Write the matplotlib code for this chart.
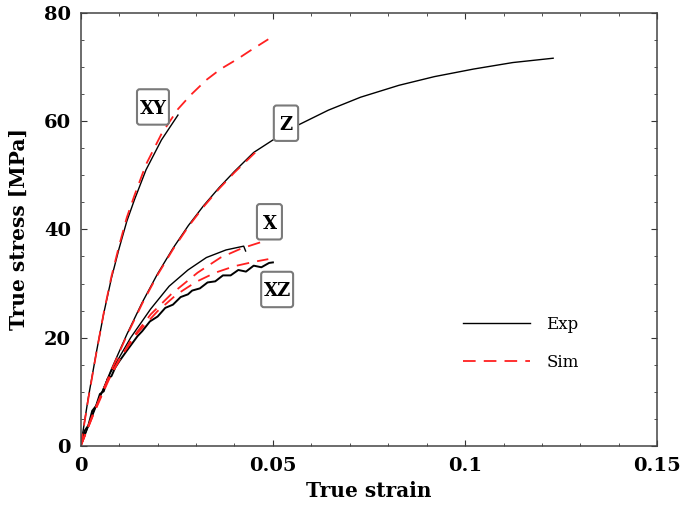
import numpy as np
import matplotlib
matplotlib.use("Agg")
import matplotlib.pyplot as plt
import matplotlib.transforms as mtransforms
from matplotlib.patches import FancyBboxPatch
from matplotlib.ticker import MultipleLocator

plt.rcParams['font.family'] = ['DejaVu Serif']

# --- data (true strain, true stress MPa) ---
xy_exp_strain = [0, 0.002, 0.004, 0.006, 0.008, 0.010, 0.012, 0.014, 0.017, 0.021, 0.0253]
xy_exp_stress = [0, 9.0, 17.0, 24.5, 31.0, 36.5, 41.5, 45.5, 51.0, 56.5, 61.1]
xy_sim_strain = [0, 0.002, 0.004, 0.006, 0.008, 0.010, 0.012, 0.014, 0.017, 0.021, 0.0253,
                 0.0286, 0.0327, 0.0364, 0.0409, 0.0441, 0.0488]
xy_sim_stress = [0, 8.8, 16.9, 24.6, 31.3, 37.0, 42.2, 46.3, 52.0, 57.6, 62.2,
                 64.8, 67.6, 69.6, 71.5, 73.0, 75.1]

z_exp_strain = [0, 0.004, 0.008, 0.012, 0.016, 0.020, 0.024, 0.028, 0.032, 0.036, 0.040, 0.045,
                0.050, 0.0564, 0.0644, 0.0728, 0.0828, 0.0920, 0.1022, 0.1124, 0.1229]
z_exp_stress = [0, 7.3, 14.2, 20.6, 26.5, 31.8, 36.5, 40.7, 44.4, 47.7, 50.7, 54.2,
                56.5, 59.2, 62.0, 64.4, 66.6, 68.2, 69.6, 70.8, 71.6]
z_sim_strain = [0, 0.004, 0.008, 0.012, 0.016, 0.020, 0.024, 0.028, 0.032, 0.036, 0.040, 0.046]
z_sim_stress = [0, 7.1, 14.0, 20.4, 26.3, 31.6, 36.3, 40.5, 44.2, 47.5, 50.5, 54.6]

x_exp_strain = [0, 0.0031, 0.0078, 0.0130, 0.0182, 0.0230, 0.0279, 0.0327, 0.0378, 0.0424, 0.0429]
x_exp_stress = [0, 6.0, 13.6, 20.0, 25.3, 29.5, 32.5, 34.8, 36.2, 36.9, 36.0]
x_sim_strain = [0, 0.0031, 0.0078, 0.0130, 0.0182, 0.0235, 0.0304, 0.0364, 0.0419, 0.0476]
x_sim_stress = [0, 5.5, 13.0, 19.5, 24.3, 28.0, 32.0, 34.8, 36.5, 37.8]

xz_exp_strain = [0, 0.001, 0.002, 0.003, 0.004, 0.005, 0.006, 0.007, 0.008, 0.009, 0.010, 0.012, 0.0148,
                 0.016, 0.018, 0.020, 0.022, 0.024, 0.026, 0.0279, 0.029, 0.031, 0.033, 0.035, 0.037,
                 0.039, 0.041, 0.043, 0.045, 0.047, 0.049, 0.050]
xz_exp_stress = [0, 2.8, 3.8, 6.5, 7.4, 9.6, 10.1, 12.4, 12.9, 14.5, 15.6, 17.6, 20.3,
                 21.2, 23.0, 23.9, 25.5, 26.1, 27.5, 28.0, 28.7, 29.1, 30.2, 30.4, 31.5,
                 31.5, 32.5, 32.2, 33.3, 33.0, 33.8, 33.9]
xz_sim_strain = [0, 0.003, 0.006, 0.010, 0.0148, 0.020, 0.025, 0.030, 0.035, 0.040, 0.0450, 0.0488]
xz_sim_stress = [0, 5.6, 10.6, 16.0, 20.9, 24.9, 28.0, 30.3, 32.0, 33.2, 34.0, 34.5]

labels = ["XY", "Z", "X", "XZ"]
label_pos = [(0.0188, 62.6), (0.0534, 59.6), (0.0491, 41.4), (0.0511, 28.9)]
label_box_w = [23, 17.5, 18, 23]   # box sizes in points
label_box_h = 25.5


def main():
    fig = plt.figure(figsize=(6.85, 5.13), dpi=100)
    ax = fig.add_axes([0.1178, 0.1306, 0.8418, 0.8446])

    exp_kw = dict(color='black', lw=1.0)
    sim_kw = dict(color='#ff2020', lw=1.3, linestyle=(0, (7, 4.5)))

    ax.plot(xy_exp_strain, xy_exp_stress, **exp_kw, label='Exp')
    ax.plot(z_exp_strain, z_exp_stress, **exp_kw)
    ax.plot(x_exp_strain, x_exp_stress, **exp_kw)
    ax.plot(xz_exp_strain, xz_exp_stress, color='black', lw=1.4)

    ax.plot(xy_sim_strain, xy_sim_stress, **sim_kw, label='Sim')
    ax.plot(z_sim_strain, z_sim_stress, **sim_kw)
    ax.plot(x_sim_strain, x_sim_stress, **sim_kw)
    ax.plot(xz_sim_strain, xz_sim_stress, **sim_kw)

    # boxed curve labels: fixed-size box (points) centred at a data position
    for name, (lx, ly), bw in zip(labels, label_pos, label_box_w):
        trans = (mtransforms.Affine2D().scale(1 / 72.) + fig.dpi_scale_trans
                 + mtransforms.ScaledTranslation(lx, ly, ax.transData))
        box = FancyBboxPatch((-bw / 2, -label_box_h / 2), bw, label_box_h,
                             boxstyle='round,pad=0,rounding_size=2',
                             fc='white', ec='#7a7a7a', lw=1.5, transform=trans, zorder=4)
        ax.add_patch(box)
        ax.text(lx, ly, name, fontsize=13, fontweight='bold', ha='center', va='center_baseline',
                zorder=5)

    ax.set_xlim(0, 0.15)
    ax.set_ylim(0, 80)
    ax.set_xticks([0, 0.05, 0.1, 0.15])
    ax.set_xticklabels(['0', '0.05', '0.1', '0.15'])
    ax.set_yticks([0, 20, 40, 60, 80])
    ax.xaxis.set_minor_locator(MultipleLocator(0.01))
    ax.yaxis.set_minor_locator(MultipleLocator(5))
    ax.tick_params(which='both', direction='in', top=True, right=True, color='#333333')
    ax.tick_params(which='major', length=4, labelsize=14)
    ax.tick_params(which='minor', length=2.5)
    ax.tick_params(axis='x', which='major', pad=8)
    ax.tick_params(axis='y', which='major', pad=7)
    for lab in ax.get_xticklabels() + ax.get_yticklabels():
        lab.set_fontweight('bold')
    for sp in ax.spines.values():
        sp.set_color('#444444')
        sp.set_linewidth(1.1)

    ax.set_xlabel('True strain', fontsize=14.5, fontweight='bold', labelpad=4)
    ax.set_ylabel('True stress [MPa]', fontsize=14.5, fontweight='bold', labelpad=11)

    ax.legend(loc='upper left', bbox_to_anchor=(0.663, 0.3), borderaxespad=0, borderpad=0,
              frameon=False, fontsize=12, handlelength=4.0, labelspacing=1.25, handletextpad=1.0)

    fig.savefig('out.png', dpi=100)


if __name__ == "__main__":
    main()
